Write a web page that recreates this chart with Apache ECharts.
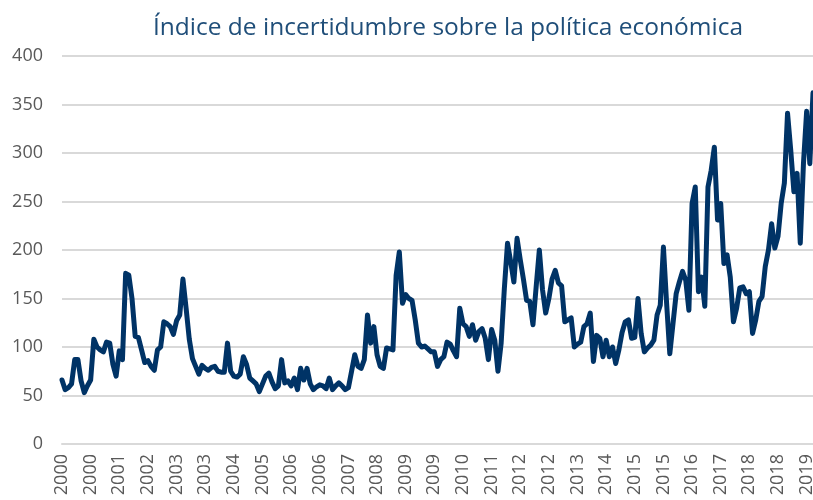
<!DOCTYPE html>
<html>
<head>
<meta charset="utf-8">
<script src="https://cdn.jsdelivr.net/npm/echarts@6/dist/echarts.min.js"></script>
<style>
  html, body { margin: 0; padding: 0; background: #fff; }
  #chart { width: 813px; height: 500px; }
</style>
</head>
<body>
<div id="chart"></div>
<script>
// valores mensuales, enero 2000 - septiembre 2019
var startYear = 2000;
var yTicks = [0, 50, 100, 150, 200, 250, 300, 350, 400];
var values = [
  66, 56, 58, 62, 87, 87, 65, 53, 60, 66, 108, 100,       // 2000
  97, 95, 105, 104, 82, 70, 96, 87, 176, 174, 150, 111,   // 2001
  110, 97, 84, 86, 80, 76, 97, 100, 126, 124, 121, 113,   // 2002
  127, 133, 170, 140, 108, 88, 80, 72, 81, 78, 76, 79,    // 2003
  80, 75, 74, 74, 104, 75, 70, 69, 72, 90, 82, 68,        // 2004
  65, 62, 54, 62, 70, 73, 64, 57, 60, 87, 63, 65,         // 2005
  60, 68, 56, 78, 66, 78, 62, 56, 59, 61, 60, 57,         // 2006
  68, 56, 60, 63, 60, 56, 58, 75, 92, 80, 78, 87,         // 2007
  133, 104, 121, 92, 80, 78, 99, 98, 97, 174, 198, 145,   // 2008
  154, 150, 148, 128, 104, 100, 101, 98, 95, 95, 80, 87,  // 2009
  90, 105, 103, 96, 90, 140, 124, 121, 111, 123, 107, 116, // 2010
  119, 109, 87, 118, 107, 75, 104, 160, 207, 188, 167, 212, // 2011
  190, 170, 148, 147, 123, 162, 200, 159, 135, 150, 170, 179, // 2012
  166, 163, 126, 128, 130, 100, 103, 105, 121, 124, 135, 85,  // 2013
  112, 109, 90, 107, 90, 100, 83, 97, 115, 126, 128, 109,     // 2014
  110, 150, 114, 95, 99, 102, 107, 133, 143, 203, 145, 93,    // 2015
  124, 155, 167, 178, 169, 138, 248, 265, 157, 172, 142, 265, // 2016
  282, 306, 231, 248, 186, 195, 172, 126, 140, 161, 162, 155, // 2017
  157, 114, 128, 147, 152, 183, 200, 227, 202, 214, 248, 269, // 2018
  341, 303, 260, 279, 207, 289, 343, 289, 362                 // 2019
];
var months = values.map(function (v, i) {
  var y = startYear + Math.floor(i / 12);
  var m = (i % 12) + 1;
  return y + '-' + (m < 10 ? '0' + m : m);
});

var chart = echarts.init(document.getElementById('chart'));
var option = {
  animation: false,
  title: {
    text: 'Índice de incertidumbre sobre la política económica',
    left: 443,
    textAlign: 'center',
    top: 11,
    textStyle: {
      fontFamily: 'Open Sans',
      fontSize: 24.5,
      fontWeight: 'normal',
      color: '#1f4e79'
    }
  },
  grid: {
    left: 62,
    right: 0,
    top: 56,
    bottom: 56,
    containLabel: false,
    outerBoundsMode: 'none'
  },
  xAxis: {
    type: 'category',
    data: months,
    boundaryGap: false,
    axisLine: { lineStyle: { color: '#d9d9d9', width: 2 } },
    axisTick: { show: false },
    axisLabel: {
      interval: 8,
      rotate: 90,
      margin: 10,
      color: '#595959',
      fontFamily: 'Open Sans',
      fontSize: 18,
      formatter: function (v) { return v.slice(0, 4); }
    }
  },
  yAxis: {
    type: 'value',
    min: yTicks[0],
    max: yTicks[yTicks.length - 1],
    interval: 50,
    axisLine: { show: false },
    axisTick: { show: false },
    splitLine: { lineStyle: { color: '#d9d9d9', width: 2 } },
    axisLabel: {
      margin: 19,
      color: '#595959',
      fontFamily: 'Open Sans',
      fontSize: 18
    }
  },
  series: [{
    type: 'line',
    data: values,
    symbol: 'none',
    lineStyle: { color: '#003366', width: 5, join: 'round', cap: 'round' },
    itemStyle: { color: '#003366' }
  }]
};
chart.setOption(option);
</script>
</body>
</html>
